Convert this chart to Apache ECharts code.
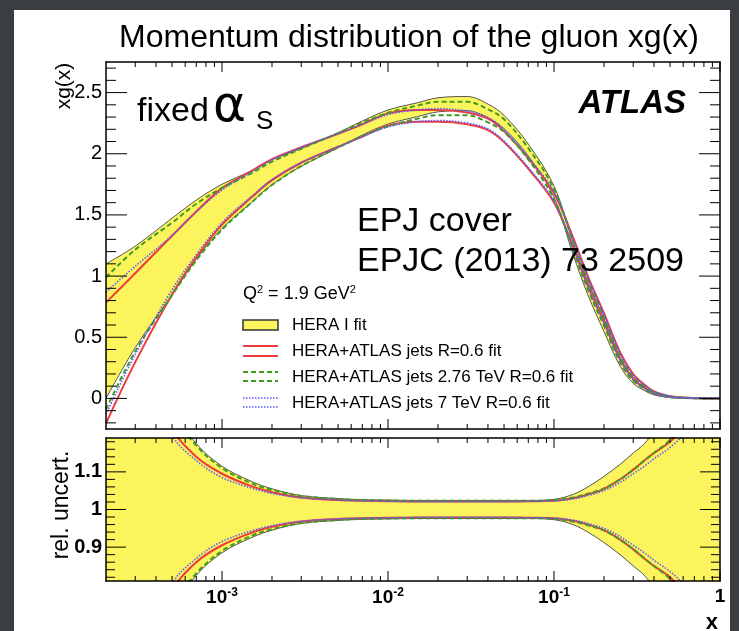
<!DOCTYPE html>
<html><head><meta charset="utf-8">
<script src="https://cdn.jsdelivr.net/npm/echarts@6/dist/echarts.min.js"></script>
<style>html,body{margin:0;padding:0;background:#3a3d42;}#c{width:739px;height:631px;}</style>
</head><body><div id="c"></div><script>
const FONT = "'Liberation Sans', Arial, Helvetica, sans-serif";
// x grid (momentum fraction)
const X = [2e-4, 3e-4, 5e-4, 7e-4, 1e-3, 1.5e-3, 2e-3, 3e-3, 5e-3, 7e-3, 1e-2, 1.5e-2, 2e-2, 3e-2, 4e-2, 5e-2, 7e-2, 0.1, 0.13, 0.16, 0.2, 0.25, 0.3, 0.35, 0.4, 0.5, 0.6, 0.7, 0.8, 0.9, 1];
// HERA I fit: central xg(x) and relative uncertainty
const heraC = [0.55, 0.83, 1.16, 1.38, 1.57, 1.73, 1.85, 1.97, 2.11, 2.21, 2.30, 2.36, 2.40, 2.41, 2.35, 2.26, 2.03, 1.69, 1.23, 0.90, 0.60, 0.30, 0.145, 0.078, 0.037, 0.01, 0.004, 0.0015, 0.0004, 0.00005, 0];
const heraR = [1.0, 0.5, 0.27, 0.175, 0.115, 0.075, 0.055, 0.037, 0.029, 0.026, 0.025, 0.024, 0.024, 0.024, 0.024, 0.024, 0.024, 0.027, 0.04, 0.06, 0.088, 0.12, 0.15, 0.175, 0.21, 0.3, 0.4, 0.55, 0.75, 1.0, 1.5];
// HERA+ATLAS jets R=0.6
const jetsC = [0.29, 0.66, 1.09, 1.34, 1.57, 1.75, 1.87, 1.99, 2.11, 2.19, 2.28, 2.31, 2.31, 2.29, 2.24, 2.14, 1.92, 1.64, 1.28, 0.96, 0.66, 0.35, 0.18, 0.10, 0.05, 0.015, 0.006, 0.002, 0.0005, 0.00006, 0];
const jetsR = [1.7, 0.55, 0.22, 0.14, 0.095, 0.062, 0.046, 0.032, 0.025, 0.023, 0.022, 0.021, 0.021, 0.021, 0.021, 0.021, 0.022, 0.023, 0.03, 0.04, 0.055, 0.08, 0.106, 0.13, 0.15, 0.18, 0.22, 0.28, 0.4, 0.6, 1.0];
// HERA+ATLAS jets 2.76 TeV R=0.6
const j276C = [0.45, 0.80, 1.14, 1.36, 1.55, 1.72, 1.84, 1.97, 2.11, 2.20, 2.28, 2.34, 2.37, 2.37, 2.31, 2.23, 2.00, 1.67, 1.25, 0.93, 0.63, 0.32, 0.16, 0.09, 0.045, 0.013, 0.005, 0.0018, 0.0005, 0.00005, 0];
const j276R = [1.2, 0.52, 0.26, 0.17, 0.11, 0.07, 0.052, 0.036, 0.028, 0.025, 0.024, 0.023, 0.023, 0.023, 0.023, 0.023, 0.023, 0.025, 0.032, 0.042, 0.056, 0.08, 0.105, 0.13, 0.15, 0.185, 0.23, 0.3, 0.42, 0.6, 1.0];
// HERA+ATLAS jets 7 TeV R=0.6
const j7C = [0.37, 0.72, 1.11, 1.35, 1.57, 1.75, 1.87, 1.99, 2.11, 2.19, 2.27, 2.31, 2.32, 2.30, 2.25, 2.15, 1.93, 1.65, 1.27, 0.95, 0.65, 0.34, 0.17, 0.095, 0.048, 0.014, 0.0055, 0.0019, 0.0005, 0.00005, 0];
const j7R = [1.35, 0.5, 0.2, 0.13, 0.085, 0.057, 0.043, 0.031, 0.025, 0.023, 0.022, 0.021, 0.021, 0.021, 0.021, 0.021, 0.022, 0.023, 0.028, 0.037, 0.05, 0.072, 0.095, 0.115, 0.135, 0.165, 0.2, 0.26, 0.38, 0.6, 1.0];

const xMajorTicks = [0.001, 0.01, 0.1, 1];
const yMainLabels = [0, 0.5, 1, 1.5, 2, 2.5];
const yRatioLabels = [0.9, 1, 1.1];
const legendNames = ['HERA I fit', 'HERA+ATLAS jets R=0.6 fit', 'HERA+ATLAS jets 2.76 TeV R=0.6 fit', 'HERA+ATLAS jets 7 TeV R=0.6 fit'];

const X_MIN = 2e-4, X_MAX = 1;
const Y_MIN = -0.25, Y_MAX = 2.75;
const R_MIN = 0.81, R_MAX = 1.19;

const xMinorTicks = [];
for (let d = -4; d <= -1; d++) for (let k = 2; k <= 9; k++) { const v = k * Math.pow(10, d); if (v > X_MIN * 1.01 && v < X_MAX) xMinorTicks.push(+v.toPrecision(3)); }
function minorList(a, b, step, majors) { const out = []; const n = Math.round((b - a) / step); for (let i = 0; i <= n; i++) { const v = +(a + i * step).toFixed(4); if (!majors.some(m => Math.abs(m - v) < 1e-6)) out.push(v); } return out; }
const yMainMinor = minorList(-0.2, 2.7, 0.1, yMainLabels);
const yRatioMinor = minorList(0.82, 1.18, 0.02, yRatioLabels);

const YELLOW = '#fcf45c', EDGE = '#555555', RED = '#ef3b3b', GREEN = '#3f9c22', BLUE = '#5b5bff';
const SM = 0.35;
const pairs = ys => X.map((x, i) => [x, ys[i]]);
const up = (c, r) => c.map((v, i) => v * (1 + r[i]));
const lo = (c, r) => c.map((v, i) => v * (1 - r[i]));
const rUp = r => r.map(v => 1 + v);
const rLo = r => r.map(v => 1 - v);

// yellow band: upper edge filled down to the axis start in yellow, lower edge filled down in white
function band(xi, yi, l, u) {
  return [
    {type: 'line', xAxisIndex: xi, yAxisIndex: yi, data: pairs(u), symbol: 'none', smooth: SM, lineStyle: {width: 0, opacity: 0}, areaStyle: {color: YELLOW, opacity: 1, origin: 'start'}, z: 1, silent: true},
    {type: 'line', xAxisIndex: xi, yAxisIndex: yi, data: pairs(l), symbol: 'none', smooth: SM, lineStyle: {width: 0, opacity: 0}, areaStyle: {color: '#ffffff', opacity: 1, origin: 'start'}, z: 2, silent: true}
  ];
}
function lines(xi, yi, l, u, style, z) {
  return [l, u].map(d => ({type: 'line', xAxisIndex: xi, yAxisIndex: yi, data: pairs(d), symbol: 'none', smooth: SM, lineStyle: style, z: z, silent: true}));
}
const edgeStyle = {color: EDGE, width: 1};
const redStyle = {color: RED, width: 2};
const greenStyle = {color: GREEN, width: 2, type: [5, 3]};
const blueStyle = {color: BLUE, width: 1.6, type: [1.5, 1.5]};

function xTicks(xi, yi, yMin, yMax, majLen, minLen) {
  const data = xMajorTicks.map(v => [v, 1]).concat(xMinorTicks.map(v => [v, 0]));
  return {type: 'custom', xAxisIndex: xi, yAxisIndex: yi, data, silent: true, z: 8, clip: false,
    renderItem: (p, api) => {
      const v = api.value(0), len = api.value(1) === 1 ? majLen : minLen;
      const b = api.coord([v, yMin]), t = api.coord([v, yMax]);
      return {type: 'group', children: [
        {type: 'line', shape: {x1: b[0], y1: b[1], x2: b[0], y2: b[1] - len}, style: {stroke: '#000', lineWidth: 1}},
        {type: 'line', shape: {x1: t[0], y1: t[1], x2: t[0], y2: t[1] + len}, style: {stroke: '#000', lineWidth: 1}}
      ]};
    }};
}
function yTicks(xi, yi, majors, minors, majLen, minLen) {
  const data = majors.map(v => [X_MIN, v, 1]).concat(minors.map(v => [X_MIN, v, 0]));
  return {type: 'custom', xAxisIndex: xi, yAxisIndex: yi, data, silent: true, z: 8, clip: false,
    renderItem: (p, api) => {
      const v = api.value(1), len = api.value(2) === 1 ? majLen : minLen;
      const l = api.coord([X_MIN, v]), r = api.coord([X_MAX, v]);
      return {type: 'group', children: [
        {type: 'line', shape: {x1: l[0], y1: l[1], x2: l[0] + len, y2: l[1]}, style: {stroke: '#000', lineWidth: 1}},
        {type: 'line', shape: {x1: r[0], y1: r[1], x2: r[0] - len, y2: r[1]}, style: {stroke: '#000', lineWidth: 1}}
      ]};
    }};
}

const series = [].concat(
  band(0, 0, lo(heraC, heraR), up(heraC, heraR)),
  lines(0, 0, lo(heraC, heraR), up(heraC, heraR), edgeStyle, 3),
  lines(0, 0, lo(jetsC, jetsR), up(jetsC, jetsR), redStyle, 4),
  lines(0, 0, lo(j276C, j276R), up(j276C, j276R), greenStyle, 5),
  lines(0, 0, lo(j7C, j7R), up(j7C, j7R), blueStyle, 6),
  band(2, 2, rLo(heraR), rUp(heraR)),
  lines(2, 2, rLo(heraR), rUp(heraR), edgeStyle, 3),
  lines(2, 2, rLo(jetsR), rUp(jetsR), redStyle, 4),
  lines(2, 2, rLo(j276R), rUp(j276R), greenStyle, 5),
  lines(2, 2, rLo(j7R), rUp(j7R), blueStyle, 6),
  [xTicks(0, 0, Y_MIN, Y_MAX, 10, 5), xTicks(2, 2, R_MIN, R_MAX, 10, 5),
   yTicks(0, 0, yMainLabels, yMainMinor, 21, 10), yTicks(2, 2, yRatioLabels, yRatioMinor, 20, 9)]
);

const frameLine = {show: true, onZero: false, lineStyle: {color: '#000', width: 1.5}};
function xAx(grid, pos, labels) {
  return {gridIndex: grid, type: 'log', logBase: 10, min: X_MIN, max: X_MAX, position: pos, z: 10,
    axisLine: frameLine, axisTick: {show: false}, splitLine: {show: false}, minorTick: {show: false},
    axisLabel: labels ? {show: true, margin: 6, color: '#000',
      formatter: v => { const lg = Math.log10(v), e = Math.round(lg); if (Math.abs(lg - e) > 1e-6 || !xMajorTicks.some(m => Math.abs(m - v) / m < 1e-6)) return ''; return e === 0 ? '{b|1}' : '{b|10}{s|' + e + '}'; },
      rich: {b: {fontSize: 19, fontWeight: 'bold', fontFamily: FONT, color: '#000', verticalAlign: 'bottom'},
             s: {fontSize: 12, fontWeight: 'bold', fontFamily: FONT, color: '#000', verticalAlign: 'bottom', padding: [0, 0, 8, 0]}}} : {show: false}};
}
function yAx(grid, pos, min, max, labels, bold) {
  return {gridIndex: grid, type: 'value', min, max, position: pos, z: 10, axisLine: frameLine, axisTick: {show: false}, splitLine: {show: false},
    axisLabel: labels ? {show: true, customValues: labels, margin: 4, fontSize: 20, fontFamily: FONT, color: '#000', fontWeight: bold ? 'bold' : 'normal', formatter: v => String(v)} : {show: false}};
}

const T = (text, x, y, size, extra) => ({type: 'text', x, y, z: 100, style: Object.assign({text, fontSize: size, fontFamily: FONT, fill: '#000', align: 'left', verticalAlign: 'middle'}, extra || {})});

const graphic = [
  {type: 'rect', shape: {x: 14, y: 10, width: 716, height: 621}, style: {fill: '#fff'}, z: -100},
  T('Momentum distribution of the gluon xg(x)', 409, 38, 32, {align: 'center'}),
  Object.assign(T('xg(x)', 64, 86, 21, {align: 'center'}), {rotation: Math.PI / 2}),
  Object.assign(T('rel. uncert.', 62, 505, 23, {align: 'center'}), {rotation: Math.PI / 2}),
  T('fixed', 137, 112, 34),
  T('α', 213, 108, 50, {fontFamily: "'DejaVu Sans', sans-serif"}),
  T('S', 256, 122, 26),
  T('ATLAS', 686, 104, 33, {align: 'right', fontWeight: 'bold', fontStyle: 'italic'}),
  T('EPJ cover', 357, 222, 34),
  T('EPJC (2013) 73 2509', 357, 262, 34),
  {type: 'text', x: 243, y: 294, z: 100, style: {text: '{n|Q}{s|2}{n| = 1.9 GeV}{s|2}', verticalAlign: 'middle', align: 'left',
    rich: {n: {fontSize: 18, fontFamily: FONT, color: '#000', verticalAlign: 'bottom'}, s: {fontSize: 11, fontFamily: FONT, color: '#000', verticalAlign: 'bottom', padding: [0, 0, 8, 0]}}}},
  {type: 'rect', shape: {x: 243, y: 320, width: 35, height: 10}, style: {fill: YELLOW, stroke: '#333', lineWidth: 1.5}, z: 100},
  {type: 'line', shape: {x1: 243, y1: 346, x2: 278, y2: 346}, style: {stroke: RED, lineWidth: 2}, z: 100},
  {type: 'line', shape: {x1: 243, y1: 356, x2: 278, y2: 356}, style: {stroke: RED, lineWidth: 2}, z: 100},
  {type: 'line', shape: {x1: 243, y1: 372, x2: 278, y2: 372}, style: {stroke: GREEN, lineWidth: 2, lineDash: [5, 3]}, z: 100},
  {type: 'line', shape: {x1: 243, y1: 381, x2: 278, y2: 381}, style: {stroke: GREEN, lineWidth: 2, lineDash: [5, 3]}, z: 100},
  {type: 'line', shape: {x1: 243, y1: 398, x2: 278, y2: 398}, style: {stroke: BLUE, lineWidth: 1.6, lineDash: [1.5, 1.5]}, z: 100},
  {type: 'line', shape: {x1: 243, y1: 407, x2: 278, y2: 407}, style: {stroke: BLUE, lineWidth: 1.6, lineDash: [1.5, 1.5]}, z: 100},
  T(legendNames[0], 292, 325, 17),
  T(legendNames[1], 292, 351, 17),
  T(legendNames[2], 292, 377, 17),
  T(legendNames[3], 292, 403, 17),
  T('x', 718, 623, 22, {align: 'right', fontWeight: 'bold'})
];

const chart = echarts.init(document.getElementById('c'), null, {renderer: 'canvas'});
chart.setOption({
  animation: false,
  backgroundColor: 'transparent',
  grid: [
    {left: 106, top: 62, width: 614, height: 367},
    {left: 106, top: 438, width: 614, height: 143}
  ],
  xAxis: [xAx(0, 'bottom', false), xAx(0, 'top', false), xAx(1, 'bottom', true), xAx(1, 'top', false)],
  yAxis: [yAx(0, 'left', Y_MIN, Y_MAX, yMainLabels, false), yAx(0, 'right', Y_MIN, Y_MAX, null), yAx(1, 'left', R_MIN, R_MAX, yRatioLabels, true), yAx(1, 'right', R_MIN, R_MAX, null)],
  series,
  graphic
});
</script></body></html>
